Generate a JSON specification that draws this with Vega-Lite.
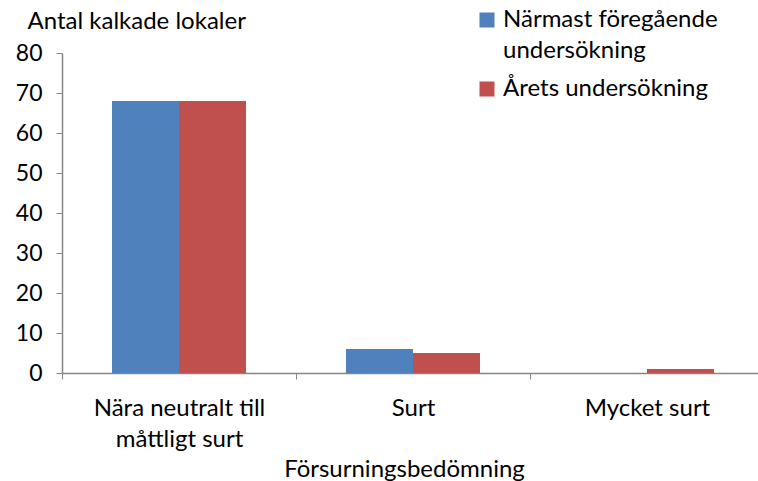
{
  "$schema": "https://vega.github.io/schema/vega-lite/v6.json",
  "width": 702,
  "height": 320,
  "autosize": {"type": "none"},
  "padding": {"left": 62, "top": 53, "right": 0, "bottom": 108},
  "background": "white",
  "config": {
    "font": "Lato",
    "view": {"stroke": null},
    "style": {"guide-label": {"lineHeight": 31}}
  },
  "data": {
    "values": [
      {"kat": "Nära neutralt till måttligt surt", "serie": "Närmast föregående undersökning", "antal": 68},
      {"kat": "Nära neutralt till måttligt surt", "serie": "Årets undersökning", "antal": 68},
      {"kat": "Surt", "serie": "Närmast föregående undersökning", "antal": 6},
      {"kat": "Surt", "serie": "Årets undersökning", "antal": 5},
      {"kat": "Mycket surt", "serie": "Närmast föregående undersökning", "antal": 0},
      {"kat": "Mycket surt", "serie": "Årets undersökning", "antal": 1}
    ]
  },
  "mark": {"type": "bar"},
  "encoding": {
    "x": {
      "field": "kat",
      "type": "nominal",
      "sort": null,
      "scale": {"paddingInner": 0, "paddingOuter": 0},
      "axis": {
        "title": "Försurningsbedömning",
        "titleFont": "Lato",
        "titleFontSize": 24,
        "titleFontWeight": "normal",
        "titleColor": "#000000",
        "titleX": 342,
        "titleY": 103,
        "titleBaseline": "alphabetic",
        "labelAngle": 0,
        "labelFontSize": 24,
        "labelColor": "#000000",
        "labelPadding": 17,
        "labelExpr": "datum.label == 'Nära neutralt till måttligt surt' ? ['Nära neutralt till', 'måttligt surt'] : datum.label",
        "labelLimit": 300,
        "tickBand": "extent",
        "tickSize": 6,
        "tickColor": "#868686",
        "domainColor": "#868686",
        "domainWidth": 1.5,
        "grid": false
      }
    },
    "xOffset": {
      "field": "serie",
      "type": "nominal",
      "sort": ["Närmast föregående undersökning", "Årets undersökning"],
      "scale": {"paddingInner": 0, "paddingOuter": 0.746}
    },
    "y": {
      "field": "antal",
      "type": "quantitative",
      "scale": {"domain": [0, 80], "nice": false},
      "axis": {
        "values": [0, 10, 20, 30, 40, 50, 60, 70, 80],
        "title": "Antal kalkade lokaler",
        "titleFont": "Lato",
        "titleAngle": 0,
        "titleAlign": "left",
        "titleBaseline": "alphabetic",
        "titleX": -35,
        "titleY": -25,
        "titleFontSize": 24,
        "titleFontWeight": "normal",
        "titleColor": "#000000",
        "labelFontSize": 23,
        "labelColor": "#000000",
        "labelPadding": 14,
        "tickSize": 6,
        "tickColor": "#868686",
        "domainColor": "#868686",
        "domainWidth": 1.5,
        "grid": false
      }
    },
    "color": {
      "field": "serie",
      "type": "nominal",
      "sort": ["Närmast föregående undersökning", "Årets undersökning"],
      "scale": {
        "domain": ["Närmast föregående undersökning", "Årets undersökning"],
        "range": ["#4F81BD", "#C0504D"]
      },
      "legend": {
        "title": null,
        "orient": "none",
        "legendX": 413,
        "legendY": -45,
        "symbolType": "square",
        "symbolSize": 225,
        "symbolStrokeWidth": 0,
        "labelFontSize": 24,
        "labelColor": "#000000",
        "labelLimit": 300,
        "labelOffset": 4,
        "labelBaseline": "middle",
        "rowPadding": 14,
        "labelExpr": "datum.label == 'Närmast föregående undersökning' ? ['Närmast föregående', 'undersökning'] : datum.label"
      }
    }
  }
}
